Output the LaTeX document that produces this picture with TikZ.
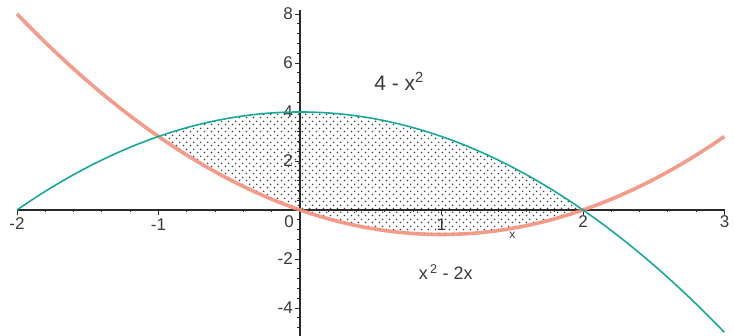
\documentclass[tikz,border=0pt]{standalone}
\usepackage{fontspec}
\setmainfont{Liberation Sans}
\usepackage{tikz}
\usepackage{xcolor}
\usetikzlibrary{patterns.meta}
\definecolor{plotred}{HTML}{F3907C}
\definecolor{plotgreen}{HTML}{16A898}
\definecolor{axisdark}{HTML}{2A2A2A}
\definecolor{labeldark}{HTML}{3A3A3A}
\tikzdeclarepattern{
  name=sparsedots,
  type=uncolored,
  bounding box={(0pt,0pt) and (7pt,7pt)},
  tile size={(7pt,7pt)},
  code={
    \fill (1.75pt,1.75pt) circle (0.95pt);
    \fill (5.25pt,5.25pt) circle (0.95pt);
  }
}
\tikzset{
  axisline/.style={draw=axisdark, line width=1.3pt},
  tickline/.style={draw=axisdark, line width=0.9pt},
  lowercurve/.style={draw=plotred, line width=3.6pt, opacity=0.9},
  uppercurve/.style={draw=plotgreen, line width=1.6pt},
  regionfill/.style={pattern={sparsedots}, pattern color=black!75},
  ticklabel/.style={text=labeldark, inner sep=0pt, font=\fontsize{17}{20}\selectfont},
  curvelabel/.style={text=labeldark, inner sep=0pt, font=\fontsize{21}{25}\selectfont}
}
\begin{document}
\begin{tikzpicture}[x=141.5pt, y=24.5pt]
\useasboundingbox (-2.12,-5.14) rectangle (3.067,8.57);

% shaded region between the curves
\fill[regionfill] plot[domain=-1:2, samples=60] (\x,{4-\x*\x})
  -- plot[domain=2:-1, samples=60] (\x,{\x*\x-2*\x}) -- cycle;

% axes
\draw[axisline] (-2,0) -- (3,0);
\draw[axisline] (0,-5.14) -- (0,8.15);
\foreach \t in {-2,-1,...,3}
  \draw[tickline] (\t,0) -- ++(0,-5pt);
\foreach \t in {-1.8,-1.6,...,2.9}
  \draw[tickline] (\t,0) -- ++(0,-2.5pt);
\foreach \t in {-4,-2,...,8}
  \draw[tickline] (0,\t) -- ++(-5pt,0);
\foreach \t in {-4.8,-4.4,...,7.7}
  \draw[tickline] (0,\t) -- ++(-2.5pt,0);

% tick labels
\node[ticklabel, anchor=north] (xm2) at ([yshift=-7pt]-2,0) {-2};
\node[ticklabel, anchor=north] (xm1) at ([yshift=-9pt]-1,0) {-1};
\node[ticklabel, anchor=north] (xp1) at ([yshift=-9pt]1,0) {1};
\node[ticklabel, anchor=north] (xp2) at ([yshift=-5pt]2,0) {2};
\node[ticklabel, anchor=north] (xp3) at ([yshift=-5pt]3,0) {3};
\node[ticklabel, anchor=north east] (orig) at ([xshift=-6pt,yshift=-5pt]0,0) {0};
\foreach \t in {-4,-2,2,4,6,8}
  \node[ticklabel, anchor=east] (y\t) at ([xshift=-7pt]0,\t) {\t};

% curves
\draw[lowercurve] plot[domain=-2:3, samples=100] (\x,{\x*\x-2*\x});
\draw[uppercurve] plot[domain=-2:3, samples=100] (\x,{4-\x*\x});

% curve labels
\node[curvelabel] (upperlbl) at (0.70,5.25) {4 - x\textsuperscript{2}};
\node[curvelabel, font=\fontsize{18}{22}\selectfont] (lowerlbl) at (1.03,-2.55) {x\textsuperscript{\,2} - 2x};
\node[ticklabel, font=\fontsize{12}{14}\selectfont] (xlbl) at (1.5,-1.05) {x};
\end{tikzpicture}
\end{document}
